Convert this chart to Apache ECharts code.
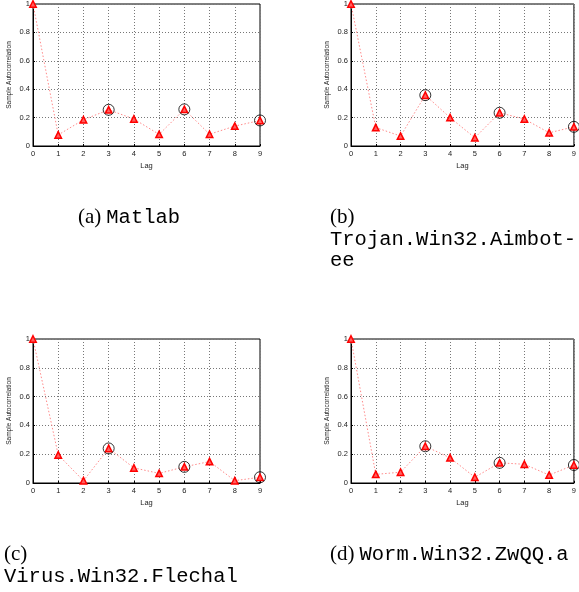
<!DOCTYPE html>
<html><head><meta charset="utf-8">
<script src="https://cdn.jsdelivr.net/npm/echarts@6/dist/echarts.min.js"></script>
<style>html,body{margin:0;padding:0;background:#fff}#c{width:579px;height:592px}</style>
</head><body><div id="c"></div>
<script>
const lags = [0,1,2,3,4,5,6,7,8,9];
const circledLags = [3,6,9];
const yTicks = [0,0.2,0.4,0.6,0.8,1];
const acfMatlab  = [1.0,0.078,0.185,0.255,0.19,0.082,0.258,0.083,0.14,0.18];
const acfTrojan  = [1.0,0.13,0.07,0.358,0.2,0.058,0.234,0.19,0.093,0.135];
const acfVirus   = [1.0,0.195,0.016,0.24,0.105,0.067,0.112,0.149,0.016,0.04];
const acfWorm    = [1.0,0.06,0.075,0.255,0.175,0.04,0.14,0.13,0.055,0.125];
const panels = [acfMatlab, acfTrojan, acfVirus, acfWorm];
const gridPos = [
  {left:33, top:3, width:227, height:143},
  {left:351, top:3, width:227, height:143},
  {left:33, top:339, width:227, height:144},
  {left:351, top:339, width:227, height:144}
];
const lblFont = 'Liberation Sans, Arial, sans-serif';
const grids=[], xAxes=[], yAxes=[], series=[];
panels.forEach((vals,i)=>{
  grids.push(Object.assign({show:true, borderColor:'#000', borderWidth:1, backgroundColor:'#fff', containLabel:false}, gridPos[i]));
  xAxes.push({type:'value', gridIndex:i, min:0, max:9, interval:1,
    name:'Lag', nameLocation:'middle', nameGap:16,
    nameTextStyle:{fontSize:7.5, color:'#222', fontFamily:lblFont},
    axisLine:{show:true, lineStyle:{color:'#000', width:1}},
    axisTick:{show:true, inside:true, length:2, lineStyle:{color:'#000'}},
    axisLabel:{fontSize:7.5, color:'#222', margin:4, fontFamily:lblFont},
    splitLine:{show:true, lineStyle:{color:'#777', type:[1,2], width:1}}});
  yAxes.push({type:'value', gridIndex:i, min:0, max:1, interval:0.2,
    name:'Sample Autocorrelation', nameLocation:'middle', nameGap:20,
    nameTextStyle:{fontSize:6.5, color:'#222', fontFamily:lblFont},
    axisLine:{show:true, lineStyle:{color:'#000', width:1}},
    axisTick:{show:true, inside:true, length:2, lineStyle:{color:'#000'}},
    axisLabel:{fontSize:7.5, color:'#222', margin:3, fontFamily:lblFont,
      formatter:v=>String(+v.toFixed(1))},
    splitLine:{show:true, lineStyle:{color:'#777', type:[1,2], width:1}}});
  series.push({type:'line', xAxisIndex:i, yAxisIndex:i,
    data: lags.map((l,k)=>[l, vals[k]]),
    symbol:'triangle', symbolSize:6.5, clip:false,
    lineStyle:{color:'#ff8a8a', type:[1.5,2], width:1},
    itemStyle:{color:'#ff6060', borderColor:'#ff0000', borderWidth:1.5},
    z:3, animation:false});
  series.push({type:'scatter', xAxisIndex:i, yAxisIndex:i,
    data: circledLags.map(l=>[l, vals[l]]),
    symbol:'circle', symbolSize:11, clip:false,
    itemStyle:{color:'rgba(0,0,0,0)', borderColor:'#000', borderWidth:1},
    z:4, animation:false});
});
const serif = 'Liberation Serif, DejaVu Serif, serif';
const mono = 'Liberation Mono, DejaVu Sans Mono, monospace';
const LH = 21.5;
const rich = {s:{fontFamily:serif, fontSize:21, fontWeight:'normal', color:'#000', lineHeight:LH},
              m:{fontFamily:mono, fontSize:20.5, fontWeight:'normal', color:'#000', lineHeight:LH}};
const titles = [
  {text:'{s|(a)} {m|Matlab}', left:78, top:207},
  {text:'{s|(b)}\n{m|Trojan.Win32.Aimbot-}\n{m|ee}', left:330, top:207},
  {text:'{s|(c)}\n{m|Virus.Win32.Flechal}', left:4, top:544},
  {text:'{s|(d)} {m|Worm.Win32.ZwQQ.a}', left:330, top:544}
].map(t=>Object.assign(t,{padding:0, itemGap:0, textStyle:{rich:rich, fontWeight:'normal', lineHeight:LH}}));
const chart = echarts.init(document.getElementById('c'), null, {renderer:'canvas'});
chart.setOption({animation:false, title:titles, grid:grids, xAxis:xAxes, yAxis:yAxes, series:series});
</script></body></html>
